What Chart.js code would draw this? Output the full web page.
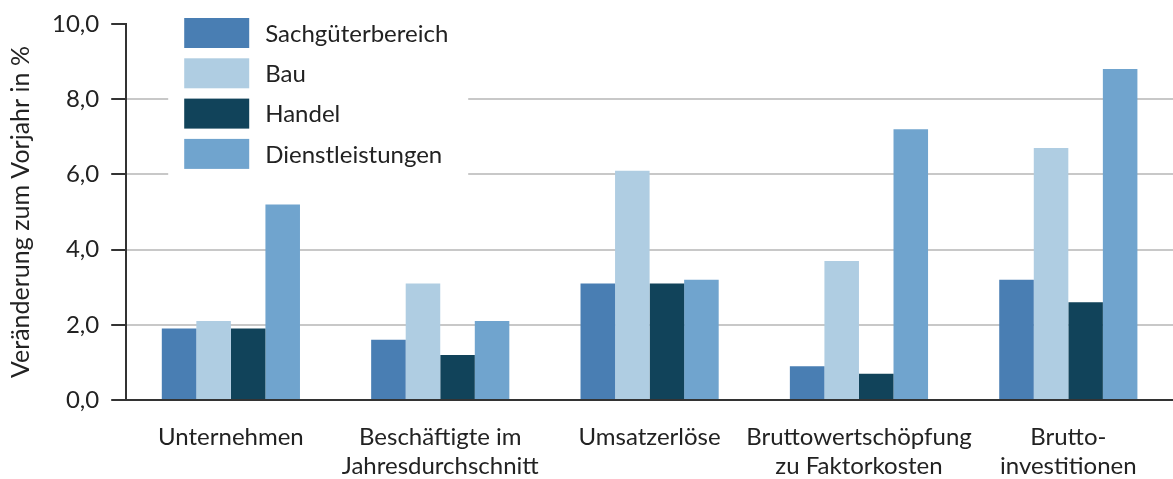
<!DOCTYPE html>
<html>
<head>
<meta charset="utf-8">
<script src="https://cdn.jsdelivr.net/npm/chart.js@4/dist/chart.umd.min.js"></script>
<style>
  html, body { margin: 0; padding: 0; background: #fff; }
  #wrap { width: 1173px; height: 479px; }
</style>
</head>
<body>
<div id="wrap"><canvas id="graphCanvas"></canvas></div>
<script>
var categories = [
    ['Unternehmen'],
    ['Beschäftigte im', 'Jahresdurchschnitt'],
    ['Umsatzerlöse'],
    ['Bruttowertschöpfung', 'zu Faktorkosten'],
    ['Brutto-', 'investitionen']
];
var seriesNames = ['Sachgüterbereich', 'Bau', 'Handel', 'Dienstleistungen'];
var sachgueter = [1.9, 1.6, 3.1, 0.9, 3.2];
var bau = [2.1, 3.1, 6.1, 3.7, 6.7];
var handel = [1.9, 1.2, 3.1, 0.7, 2.6];
var dienst = [5.2, 2.1, 3.2, 7.2, 8.8];
var yTicks = [0, 2, 4, 6, 8, 10];

var colors = ['#497eb3', '#afcde2', '#11435a', '#70a4ce'];
var fontFamily = 'Lato, "Open Sans", sans-serif';
var textColor = '#222222';

// legend drawn inside the plot, on a white box that hides the gridlines
var boxLegend = {
    id: 'boxLegend',
    beforeDatasetsDraw: function (chart) {
        var ctx = chart.ctx;
        var area = chart.chartArea;
        var x0 = area.left + 42;
        var y0 = area.top - 11;
        ctx.save();
        ctx.fillStyle = '#ffffff';
        ctx.fillRect(x0, y0, 300, 167);
        ctx.font = '24px ' + fontFamily;
        ctx.textBaseline = 'middle';
        chart.data.datasets.forEach(function (ds, i) {
            var top = area.top - 6 + i * 40.3;
            ctx.fillStyle = ds.backgroundColor;
            ctx.fillRect(area.left + 58, top, 65, 30);
            ctx.fillStyle = textColor;
            ctx.fillText(ds.label, area.left + 139, top + 16);
        });
        ctx.restore();
    }
};

var allValues = [sachgueter, bau, handel, dienst];

var chartdata = {
    labels: categories,
    datasets: seriesNames.map(function (name, i) {
        return {
            label: name,
            backgroundColor: colors[i],
            borderWidth: 0,
            data: allValues[i],
            categoryPercentage: 0.66,
            barPercentage: 1.0
        };
    })
};

var graphTarget = document.getElementById('graphCanvas');

var barGraph = new Chart(graphTarget, {
    type: 'bar',
    data: chartdata,
    plugins: [boxLegend],
    options: {
        responsive: true,
        maintainAspectRatio: false,
        animation: false,
        layout: { padding: { top: 4, right: 0, left: 0, bottom: 0 } },
        plugins: {
            legend: { display: false },
            tooltip: { enabled: false }
        },
        scales: {
            x: {
                grid: { display: false, drawTicks: false },
                border: { display: true, color: '#333333', width: 2 },
                afterFit: function (axis) { axis.height = 79; },
                ticks: {
                    color: textColor,
                    font: { family: fontFamily, size: 24, lineHeight: 1.2 },
                    padding: 23,
                    maxRotation: 0,
                    autoSkip: false
                }
            },
            y: {
                min: 0,
                max: 10,
                afterBuildTicks: function (axis) {
                    axis.ticks = yTicks.map(function (v) { return { value: v }; });
                },
                grid: {
                    color: function (c) {
                        if (c.tick && c.tick.value === 0) return '#333333';
                        if (c.tick && c.tick.value === 10) return 'rgba(0,0,0,0)';
                        return '#c8c8c8';
                    },
                    tickColor: '#333333',
                    lineWidth: 2,
                    tickLength: 15
                },
                border: { display: true, color: '#333333', width: 2 },
                title: {
                    display: true,
                    text: 'Veränderung zum Vorjahr in %',
                    color: textColor,
                    font: { family: fontFamily, size: 25 },
                    padding: { top: 6, bottom: 4 }
                },
                ticks: {
                    color: textColor,
                    font: { family: fontFamily, size: 24, lineHeight: 1.0 },
                    padding: 12,
                    callback: function (v) { return v.toFixed(1).replace('.', ','); }
                }
            }
        }
    }
});
</script>
</body>
</html>
